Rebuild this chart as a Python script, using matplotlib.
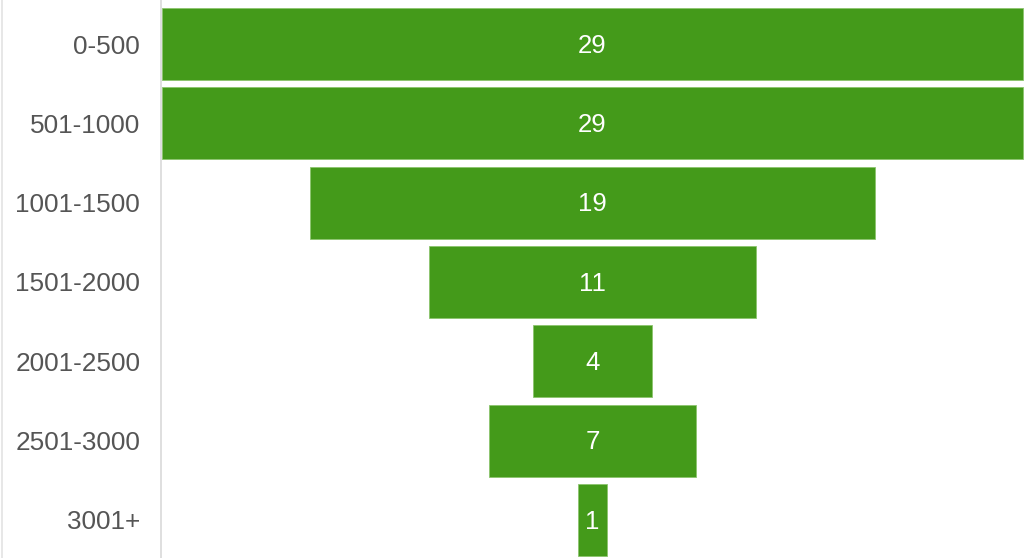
import matplotlib.pyplot as plt
from matplotlib.lines import Line2D

# funnel data
categories = ['0-500', '501-1000', '1001-1500', '1501-2000', '2001-2500', '2501-3000', '3001+']
counts = [29, 29, 19, 11, 4, 7, 1]

plt.rcParams['font.family'] = ['Liberation Sans', 'DejaVu Sans']

fig = plt.figure(figsize=(10.36, 5.58), dpi=100)
ax = fig.add_axes([161 / 1036, 0, (1024 - 161) / 1036, 1])

green = '#449a1a'
ypos = range(len(categories))
ax.barh(ypos, counts, left=[-c / 2 for c in counts], height=0.91,
        color=green, edgecolor='#8cc46e', linewidth=0.6)

for y, c in zip(ypos, counts):
    ax.text(0, y + 0.02, str(c), color='white', fontsize=18.5, ha='center', va='center')

max_c = max(counts)
ax.set_xlim(-max_c / 2 - 0.03, max_c / 2 + 0.03)
ax.set_ylim(6.48, -0.555)

ax.set_yticks(list(ypos))
ax.set_yticklabels(categories, fontsize=18.8, color='#555555')
ax.tick_params(axis='y', length=0, pad=15)
ax.set_xticks([])

for side in ['top', 'right', 'bottom']:
    ax.spines[side].set_visible(False)
ax.spines['left'].set_color('#d9d9d9')
ax.spines['left'].set_linewidth(1.2)

# faint frame line at the far left
fig.add_artist(Line2D([2 / 1036, 2 / 1036], [0, 1], color='#e3e3e3', lw=1.2,
                      transform=fig.transFigure))

fig.savefig('out.png', dpi=100)
